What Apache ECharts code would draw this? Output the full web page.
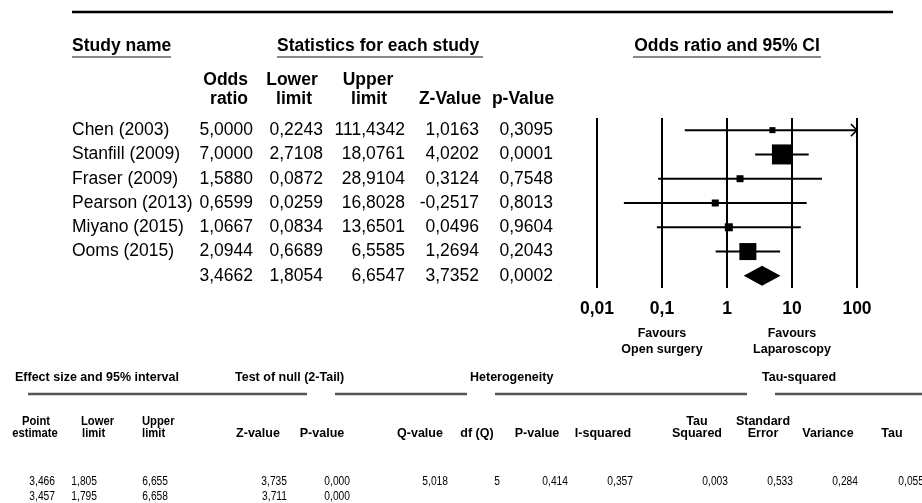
<!doctype html>
<html>
<head>
<meta charset="utf-8">
<title>Forest plot</title>
<script src="https://cdn.jsdelivr.net/npm/echarts@6/dist/echarts.min.js"></script>
<style>
    html, body { margin: 0; padding: 0; background: #fff; }
    #main { width: 922px; height: 503px; }
</style>
</head>
<body>
<div id="main"></div>
<script>
    // studies and their statistics
    var studies = ['Chen (2003)', 'Stanfill (2009)', 'Fraser (2009)', 'Pearson (2013)', 'Miyano (2015)', 'Ooms (2015)'];
    var oddsRatio = [5.0000, 7.0000, 1.5880, 0.6599, 1.0667, 2.0944];
    var lowerLimit = [0.2243, 2.7108, 0.0872, 0.0259, 0.0834, 0.6689];
    var upperLimit = [111.4342, 18.0761, 28.9104, 16.8028, 13.6501, 6.5585];
    var zValue = [1.0163, 4.0202, 0.3124, -0.2517, 0.0496, 1.2694];
    var pValue = [0.3095, 0.0001, 0.7548, 0.8013, 0.9604, 0.2043];
    var relWeight = [4.1, 45.1, 5.5, 5.5, 7.2, 32.6];
    // pooled: odds ratio, lower, upper, z, p
    var pooled = [3.4662, 1.8054, 6.6547, 3.7352, 0.0002];
    var tickLabels = ['0,01', '0,1', '1', '10', '100'];

    // bottom table
    var effectRow1 = [3.466, 1.805, 6.655, 3.735, 0.000];
    var effectRow2 = [3.457, 1.795, 6.658, 3.711, 0.000];
    var heterogeneity = [5.018, 5, 0.414, 0.357]; // Q, df, P, I-squared
    var tauSquared = [0.003, 0.533, 0.284, 0.055]; // tau2, SE, variance, tau

    var FONT = '"Liberation Sans", Arial, sans-serif';
    var xMax = 100;

    function fmt(v, d) {
        return v.toFixed(d).replace('.', ',');
    }

    var rowNames = studies.concat(['']);
    var tableData = [];
    for (var i = 0; i < studies.length; i++) {
        tableData.push([i, studies[i], oddsRatio[i], lowerLimit[i], upperLimit[i], zValue[i], pValue[i]]);
    }
    tableData.push([studies.length, ''].concat(pooled));

    var studyData = studies.map(function (s, i) {
        return [i, oddsRatio[i], lowerLimit[i], upperLimit[i], relWeight[i]];
    });

    function renderStudy(params, api) {
        var row = api.value(0);
        var y = api.coord([1, row])[1];
        var xo = api.coord([api.value(1), row])[0];
        var up = Math.min(api.value(3), xMax);
        var xl = api.coord([api.value(2), row])[0];
        var xu = api.coord([up, row])[0];
        var s = Math.sqrt(api.value(4)) * 2.98;
        var kids = [
            { type: 'line', shape: { x1: xl, y1: y, x2: xu, y2: y }, style: { stroke: '#000', lineWidth: 2 } },
            { type: 'rect', shape: { x: xo - s / 2, y: y - s / 2, width: s, height: s }, style: { fill: '#000' } }
        ];
        if (api.value(3) > xMax) {
            kids.push({ type: 'polyline', shape: { points: [[xu - 6, y - 6], [xu, y], [xu - 6, y + 6]] },
                style: { stroke: '#000', fill: null, lineWidth: 1.5 } });
        }
        return { type: 'group', children: kids };
    }

    function renderPooled(params, api) {
        var row = api.value(0);
        var y = api.coord([1, row])[1];
        var xo = api.coord([api.value(1), row])[0];
        var xl = api.coord([api.value(2), row])[0];
        var xu = api.coord([api.value(3), row])[0];
        return {
            type: 'polygon',
            shape: { points: [[xl, y], [xo, y - 10], [xu, y], [xo, y + 10]] },
            style: { fill: '#000' }
        };
    }

    // numbers of the upper table, right edges in px
    var colRight = [253, 323, 405, 479, 553];
    function renderTable(params, api) {
        var idx = params.dataIndex;
        var d = tableData[idx];
        var y = api.coord([1, d[0]])[1];
        var kids = [{ type: 'text', x: 72, y: y,
            style: { text: d[1], font: '17.5px ' + FONT, fill: '#000', textAlign: 'left', textVerticalAlign: 'middle' } }];
        for (var c = 0; c < 5; c++) {
            kids.push({ type: 'text', x: colRight[c], y: y,
                style: { text: fmt(d[2 + c], 4), font: '17.5px ' + FONT, fill: '#000', textAlign: 'right', textVerticalAlign: 'middle' } });
        }
        return { type: 'group', children: kids };
    }

    function txt(s, x, y, font, align, sx) {
        return { type: 'text', x: x, y: y, silent: true, scaleX: sx || 1,
            style: { text: s, font: font, fill: '#000', textAlign: align || 'left', textVerticalAlign: 'middle' } };
    }
    function hline(x1, x2, y, w, color) {
        return { type: 'line', silent: true, shape: { x1: x1, y1: y, x2: x2, y2: y },
            style: { stroke: color || '#000', lineWidth: w } };
    }

    var HB = 'bold 17.5px ' + FONT;
    var SB = 'bold 12.5px ' + FONT;
    var SR = '12.5px ' + FONT;
    var graphics = [
        hline(72, 893, 12, 2.5, '#000'),
        txt('Study name', 72, 46, HB), hline(72, 171, 57, 2, '#888'),
        txt('Statistics for each study', 277, 46, HB), hline(277, 483, 57, 2, '#888'),
        txt('Odds ratio and 95% CI', 727, 46, HB, 'center'), hline(633, 821, 57, 2, '#888'),
        txt('Odds', 248, 80, HB, 'right'), txt('ratio', 248, 99, HB, 'right'),
        txt('Lower', 292, 80, HB, 'center'), txt('limit', 294, 99, HB, 'center'),
        txt('Upper', 368, 80, HB, 'center'), txt('limit', 369, 99, HB, 'center'),
        txt('Z-Value', 450, 99, HB, 'center'), txt('p-Value', 523, 99, HB, 'center'),
        txt('Favours', 662, 334, 'bold 12.5px ' + FONT, 'center'),
        txt('Open surgery', 662, 350, 'bold 12.5px ' + FONT, 'center'),
        txt('Favours', 792, 334, 'bold 12.5px ' + FONT, 'center'),
        txt('Laparoscopy', 792, 350, 'bold 12.5px ' + FONT, 'center'),

        txt('Effect size and 95% interval', 15, 378, SB),
        txt('Test of null (2-Tail)', 235, 378, SB),
        txt('Heterogeneity', 470, 378, SB),
        txt('Tau-squared', 762, 378, SB),
        hline(28, 307, 394, 2.5, '#555'), hline(335, 467, 394, 2.5, '#555'),
        hline(495, 747, 394, 2.5, '#555'), hline(775, 922, 394, 2.5, '#555'),

        txt('Point', 36, 422, SB, 'center', 0.9), txt('estimate', 35, 434, SB, 'center', 0.9),
        txt('Lower', 81, 422, SB, 'left', 0.9), txt('limit', 82, 434, SB, 'left', 0.9),
        txt('Upper', 142, 422, SB, 'left', 0.9), txt('limit', 142, 434, SB, 'left', 0.9),
        txt('Z-value', 258, 434, SB, 'center'), txt('P-value', 322, 434, SB, 'center'),
        txt('Q-value', 420, 434, SB, 'center'), txt('df (Q)', 477, 434, SB, 'center'),
        txt('P-value', 537, 434, SB, 'center'), txt('I-squared', 603, 434, SB, 'center'),
        txt('Tau', 697, 422, SB, 'center'), txt('Squared', 697, 434, SB, 'center'),
        txt('Standard', 763, 422, SB, 'center'), txt('Error', 763, 434, SB, 'center'),
        txt('Variance', 828, 434, SB, 'center'), txt('Tau', 892, 434, SB, 'center')
    ];

    var effRight = [55, 97, 168, 287, 350];
    effectRow1.forEach(function (v, i) { graphics.push(txt(fmt(v, 3), effRight[i], 482, SR, 'right', 0.82)); });
    effectRow2.forEach(function (v, i) { graphics.push(txt(fmt(v, 3), effRight[i], 497, SR, 'right', 0.82)); });
    var hetRight = [448, 500, 568, 633];
    heterogeneity.forEach(function (v, i) { graphics.push(txt(fmt(v, i === 1 ? 0 : 3), hetRight[i], 482, SR, 'right', 0.82)); });
    var tauRight = [728, 793, 858, 924];
    tauSquared.forEach(function (v, i) { graphics.push(txt(fmt(v, 3), tauRight[i], 482, SR, 'right', 0.82)); });

    var myChart = echarts.init(document.getElementById('main'));
    var option = {
        backgroundColor: '#fff',
        animation: false,
        grid: { left: 597, top: 118, width: 260, height: 170 },
        xAxis: {
            type: 'log',
            logBase: 10,
            min: 0.01,
            max: 100,
            splitNumber: 4,
            axisLine: { show: false },
            axisTick: { show: false },
            splitLine: { show: true, lineStyle: { color: '#000', width: 2 } },
            axisLabel: {
                margin: 12,
                color: '#000',
                fontFamily: FONT,
                fontWeight: 'bold',
                fontSize: 17.5,
                formatter: function (v) {
                    return tickLabels[Math.round(Math.log(v) / Math.LN10) + 2];
                }
            }
        },
        yAxis: {
            type: 'category',
            data: rowNames,
            inverse: true,
            show: false
        },
        series: [
            {
                type: 'custom',
                name: 'studies',
                clip: false,
                renderItem: renderStudy,
                encode: { x: [1, 2], y: 0 },
                data: studyData
            },
            {
                type: 'custom',
                name: 'pooled',
                clip: false,
                renderItem: renderPooled,
                encode: { x: [1, 2, 3], y: 0 },
                data: [[studies.length, pooled[0], pooled[1], pooled[2]]]
            },
            {
                type: 'custom',
                name: 'table',
                clip: false,
                renderItem: renderTable,
                encode: { y: 0 },
                data: tableData.map(function (d) { return [d[0], d[2]]; })
            }
        ],
        graphic: graphics
    };
    myChart.setOption(option);
</script>
</body>
</html>
